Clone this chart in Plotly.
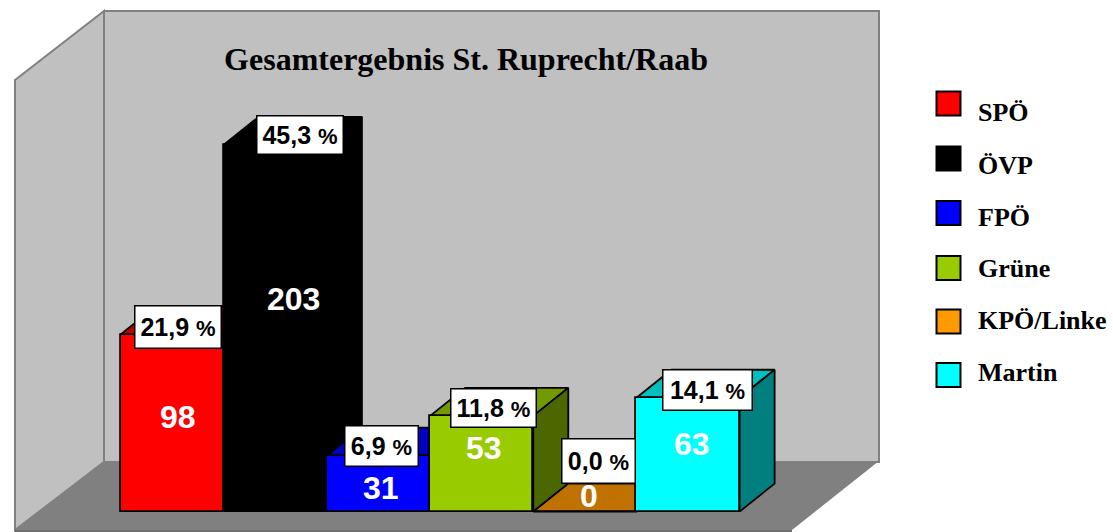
import plotly.graph_objects as go

# ---- data ----
parties = ["SPÖ", "ÖVP", "FPÖ", "Grüne", "KPÖ/Linke", "Martin"]
votes = [98, 203, 31, 53, 0, 63]
percents = ["21,9", "45,3", "6,9", "11,8", "0,0", "14,1"]
colors = ["#FF0000", "#000000", "#0000FF", "#99CC00", "#FF9900", "#00FFFF"]
title_text = "Gesamtergebnis St. Ruprecht/Raab"

# ---- layout constants ----
W, H = 1113, 532
PX_X = 103.17      # pixels per category
PX_Y = 1.807       # pixels per vote
X0_PX, Y0_PX = 120.6, 511.6
DEPTH_X = 35 / PX_X
DEPTH_Y = 28 / PX_Y
EDGE = 1.8

label_dx = [6, 24.5, 2.5, 11.5, 13.5, 19]
label_dy = [8, 9.5, 9.5, 7.5, 51, 7.5]
label_w = [87, 87, 74, 86, 74, 90]
label_h = [43, 39, 41, 39, 45, 41]
value_dx = [6, 18, 2, 2, 4, 4]
value_dy = [-82, -154, -32, -32, 16, -46]
legend_y = [103.5, 158.5, 213, 268, 321.5, 375]
legend_text_y = [112, 165, 217, 268, 320, 372]


def shade(hex_color, f):
    r, g, b = (int(hex_color[i:i + 2], 16) for i in (1, 3, 5))
    return f"rgb({int(r * f)},{int(g * f)},{int(b * f)})"


def px(x):
    return x / W


def py(y):
    return 1 - y / H


def path(points):
    return "M " + " L ".join(f"{px(a):.5f},{py(b):.5f}" for a, b in points) + " Z"


fig = go.Figure()
xs = [i + 0.5 for i in range(len(parties))]

# depth faces, back to front
for i, (c, v) in enumerate(zip(colors, votes)):
    left, right = xs[i] - 0.5, xs[i] + 0.5
    fig.add_trace(go.Scatter(
        x=[left, right, right + DEPTH_X, left + DEPTH_X, left],
        y=[v, v, v + DEPTH_Y, v + DEPTH_Y, v],
        mode="lines", fill="toself", fillcolor=shade(c, 0.75),
        line=dict(color="black", width=EDGE), hoverinfo="skip",
        showlegend=False, zorder=1 + 2 * i))
    fig.add_trace(go.Scatter(
        x=[right, right + DEPTH_X, right + DEPTH_X, right, right],
        y=[0, DEPTH_Y, v + DEPTH_Y, v, 0],
        mode="lines", fill="toself", fillcolor=shade(c, 0.5),
        line=dict(color="black", width=EDGE), hoverinfo="skip",
        showlegend=False, zorder=2 + 2 * i))

# front faces
fig.add_trace(go.Bar(
    x=xs, y=votes, width=1, marker=dict(color=colors, line=dict(color="black", width=EDGE)),
    hoverinfo="skip", showlegend=False, zorder=50))

shapes = [
    dict(type="path", path=path([(15, 80), (104, 11), (104, 462), (15, 530)]),
         fillcolor="#C0C0C0", line=dict(color="#808080", width=2)),
    dict(type="path", path=path([(104, 11), (879, 11), (879, 462), (104, 462)]),
         fillcolor="#C0C0C0", line=dict(color="#808080", width=2)),
    dict(type="path", path=path([(15, 530), (104, 461), (879, 461), (792, 530)]),
         fillcolor="#808080", line=dict(width=0)),
    dict(type="line", x0=px(15), x1=px(792), y0=py(531), y1=py(531),
         line=dict(color="#404040", width=1.5)),
]
for i in range(len(shapes)):
    shapes[i].update(xref="paper", yref="paper", layer="below")

annotations = []
for i, (v, p) in enumerate(zip(votes, percents)):
    annotations.append(dict(
        x=xs[i], y=v, xref="x", yref="y", showarrow=False,
        xshift=value_dx[i], yshift=value_dy[i],
        text=f"<b>{v}</b>", font=dict(family="Liberation Sans", size=32, color="white")))
    annotations.append(dict(
        x=xs[i], y=v, xref="x", yref="y", showarrow=False,
        xshift=label_dx[i], yshift=label_dy[i],
        width=label_w[i] - 2, height=label_h[i] - 2, align="center", valign="middle",
        bgcolor="white", bordercolor="black", borderwidth=1.5, borderpad=0,
        text=f"<b>{p} <span style='font-size:22px'>%</span></b>",
        font=dict(family="Liberation Sans", size=25, color="black")))

for i, (name, c) in enumerate(zip(parties, colors)):
    shapes.append(dict(
        type="rect", xref="paper", yref="paper",
        x0=px(936.5), x1=px(960.5), y0=py(legend_y[i] + 12), y1=py(legend_y[i] - 12),
        fillcolor=c, line=dict(color="black", width=2)))
    annotations.append(dict(
        x=px(976), y=py(legend_text_y[i]), xref="paper", yref="paper", xanchor="left",
        yanchor="middle", showarrow=False, text=f"<b>{name}</b>",
        font=dict(family="Liberation Serif", size=26, color="black")))

fig.update_layout(
    width=W, height=H, margin=dict(l=0, r=0, t=0, b=0),
    paper_bgcolor="white", plot_bgcolor="rgba(0,0,0,0)", showlegend=False,
    title=dict(text=f"<b>{title_text}</b>", x=466 / W, xanchor="center", y=py(59), yanchor="middle",
               font=dict(family="Liberation Serif", size=32, color="black")),
    xaxis=dict(range=[-X0_PX / PX_X, (W - X0_PX) / PX_X], visible=False, fixedrange=True),
    yaxis=dict(range=[-(H - Y0_PX) / PX_Y, Y0_PX / PX_Y], visible=False, fixedrange=True),
    shapes=shapes, annotations=annotations, bargap=0,
)
fig.write_html("out.html", config=dict(displayModeBar=False),
               post_script="document.body.style.margin='0';document.body.style.overflow='hidden';")
